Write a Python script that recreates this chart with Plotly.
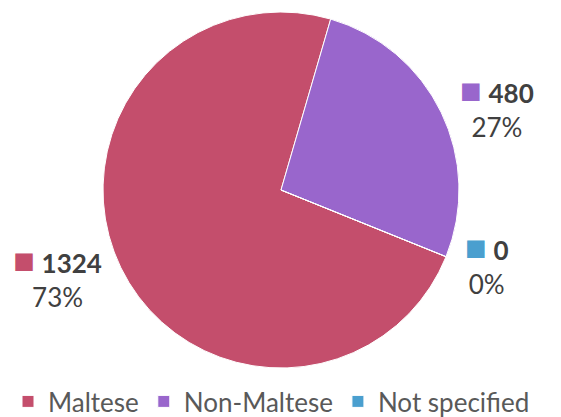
import plotly.graph_objects as go

labels = ["Maltese", "Non-Maltese", "Not specified"]
values = [1324, 480, 0]
percents = ["73%", "27%", "0%"]
colors = ["#C44E6C", "#9966CC", "#4A9FCF"]

fig = go.Figure(go.Pie(
    labels=labels,
    values=values,
    sort=False,
    direction="clockwise",
    rotation=112,
    marker=dict(colors=colors, line=dict(color="#FFFFFF", width=1)),
    customdata=list(zip(colors, percents)),
    texttemplate="<span style='color:%{customdata[0]};font-size:36px'>■</span> <b>%{value}</b><br>%{customdata[1]}",
    textposition="outside",
    textfont=dict(family="Lato", size=26, color="#404040"),
    hoverinfo="label+value+percent",
    showlegend=True,
))

fig.update_layout(
    width=561, height=417,
    margin=dict(l=0, r=15, t=4, b=57, autoexpand=False),
    paper_bgcolor="white",
    font=dict(family="Lato"),
    legend=dict(orientation="h", x=0, xanchor="left", yref="container", y=0, yanchor="bottom",
                font=dict(family="Lato", size=26, color="#595959"),
                itemwidth=30, traceorder="normal"),
)

fig.write_html("out.html")
